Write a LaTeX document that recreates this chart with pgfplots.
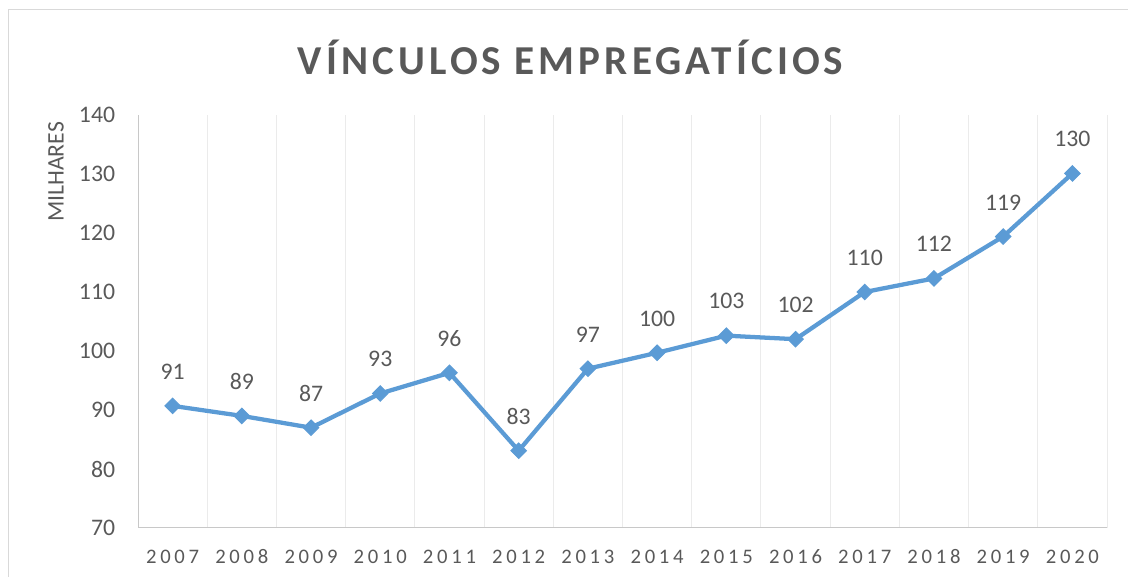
\documentclass[border=0pt]{standalone}
\usepackage{pgfplots}
\pgfplotsset{compat=1.18}
\usepackage{fontspec}
\setmainfont{Carlito}
\newfontfamily\titlefont[LetterSpace=10]{Carlito}
\newfontfamily\xfont[LetterSpace=18]{Carlito}
\definecolor{txt}{HTML}{595959}
\definecolor{ln}{HTML}{5B9BD5}
\definecolor{brd}{HTML}{D9D9D9}
\definecolor{axl}{HTML}{C8C8C8}
\definecolor{grd}{HTML}{EBEBEB}
\begin{document}
\begin{tikzpicture}
\path[use as bounding box] (0,0) rectangle (846pt,432.75pt);
\draw[brd, line width=0.75pt] (6pt,-10pt) -- (6pt,425.25pt) -- (860pt,425.25pt);
\node[font=\titlefont\bfseries\fontsize{30.8}{36}\selectfont, text=txt] at (428pt,390pt) {VÍNCULOS EMPREGATÍCIOS};
\begin{axis}[
  at={(103.5pt,36.75pt)}, anchor=south west,
  scale only axis, width=726.75pt, height=309.75pt,
  xmin=-0.5, xmax=13.5, ymin=70, ymax=140,
  ytick={70,80,...,140},
  xtick={0,...,13},
  xticklabels={2007,2008,2009,2010,2011,2012,2013,2014,2015,2016,2017,2018,2019,2020},
  minor xtick={0.5,1.5,...,13.5},
  xminorgrids, minor grid style={grd, line width=0.75pt},
  major tick length=0pt, minor tick length=0pt,
  tick style={draw=none},
  axis x line*=bottom, axis y line*=left,
  axis line style={axl, line width=0.75pt},
  /pgf/number format/assume math mode=true,
  xticklabel style={font=\xfont\fontsize{15.5}{18}\selectfont, text=txt, anchor=center, inner sep=0pt, yshift=-21.4pt},
  yticklabel style={font=\fontsize{17.8}{20}\selectfont, text=txt, anchor=east, inner sep=0pt, xshift=-17pt},
  nodes near coords,
  every node near coord/.append style={font=\fontsize{17.8}{20}\selectfont, text=txt, anchor=south, inner sep=0pt, yshift=19.5pt},
  /pgf/number format/.cd, fixed, precision=0, /pgfplots/.cd,
  clip=false,
]
\addplot[ln, line width=3.2pt, mark=square*, mark size=4.1pt, mark options={rotate=45, fill=ln, draw=ln, line width=0.75pt}]
  coordinates {(0,90.7) (1,89.0) (2,87.0) (3,92.8) (4,96.3) (5,83.1) (6,97.0) (7,99.7) (8,102.6) (9,102.0) (10,110.0) (11,112.3) (12,119.4) (13,130.1)};
\node[rotate=90, font=\fontsize{17.8}{20}\selectfont, text=txt] at (axis description cs:-0.0846,0.862) {MILHARES};
\end{axis}
\end{tikzpicture}
\end{document}
